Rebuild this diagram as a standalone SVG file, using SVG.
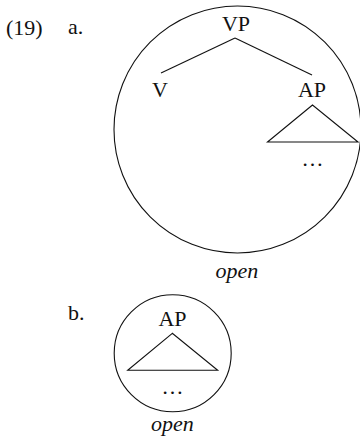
<svg xmlns="http://www.w3.org/2000/svg" width="360" height="439" viewBox="0 0 360 439">
<style>
text{font-family:"Liberation Serif","Times New Roman",serif;font-size:22px;fill:#111}
.c{text-anchor:middle}
.i{font-style:italic}
.s{fill:none;stroke:#111;stroke-width:1.1}
</style>
<rect width="360" height="439" fill="#fff"/>
<g id="labels">
<text x="6" y="35">(19)</text>
<text x="68" y="34">a.</text>
<text x="68" y="320">b.</text>
</g>
<g id="tree-a">
<circle class="s" cx="237.5" cy="129.5" r="123.5"/>
<g id="VP"><text class="c" x="236" y="31">VP</text></g>
<g id="V"><text class="c" x="160" y="97">V</text></g>
<g id="AP-a"><text class="c" x="312" y="97">AP</text>
<polygon class="s" points="312.5,105 267.5,142 358,142"/>
<text class="c" x="312.5" y="166">…</text></g>
<g id="open-a"><text class="c i" x="237" y="278">open</text></g>
</g>
<g id="connectors">
<line class="s" x1="235" y1="38" x2="161" y2="73"/>
<line class="s" x1="235" y1="38" x2="312" y2="75"/>
</g>
<g id="tree-b">
<circle class="s" cx="172.7" cy="353.3" r="58.5"/>
<g id="AP-b"><text class="c" x="172.5" y="326">AP</text>
<polygon class="s" points="172.3,333.3 127.7,370.3 217.7,370.3"/>
<text class="c" x="172.5" y="393.5">…</text></g>
<g id="open-b"><text class="c i" x="172.5" y="431">open</text></g>
</g>
</svg>
